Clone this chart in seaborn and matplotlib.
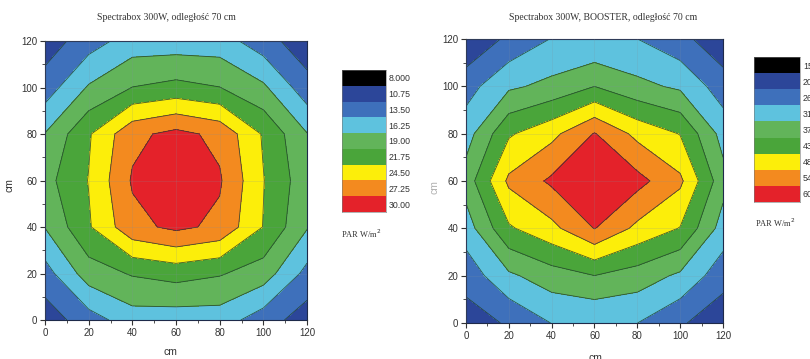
import numpy as np
import pandas as pd
import seaborn as sns
import matplotlib
matplotlib.use("Agg")
import matplotlib.pyplot as plt
from matplotlib.colors import ListedColormap
from matplotlib.ticker import MultipleLocator

# Measurement grid (cm)
positions_cm = [0, 20, 40, 60, 80, 100, 120]

# PAR readings, rows = y (0..120 cm), columns = x (0..120 cm)
standard_par = [
    [12.0, 15.0, 17.7, 17.5, 17.6, 14.8, 12.1],
    [15.1, 20.4, 22.0, 22.8, 22.0, 20.4, 15.4],
    [19.1, 24.2, 29.2, 30.6, 29.4, 24.4, 19.2],
    [20.8, 24.6, 30.3, 33.0, 30.3, 24.6, 20.0],
    [19.1, 24.2, 29.3, 30.8, 29.3, 24.2, 19.1],
    [14.8, 19.3, 21.8, 22.6, 21.8, 19.5, 14.6],
    [12.0, 15.0, 17.5, 17.5, 17.5, 14.7, 11.7],
]
booster_par = [
    [23.6, 26.9, 32.0, 32.0, 31.9, 27.0, 22.5],
    [28.4, 36.5, 40.5, 43.1, 40.5, 36.5, 28.5],
    [34.7, 48.0, 52.8, 60.2, 53.0, 48.5, 35.1],
    [40.0, 55.5, 61.0, 66.0, 61.9, 55.5, 39.6],
    [35.0, 48.0, 52.8, 60.3, 52.8, 48.5, 35.4],
    [29.6, 36.5, 39.0, 43.1, 39.0, 36.5, 29.0],
    [21.2, 27.5, 32.1, 32.0, 31.9, 28.0, 22.2],
]

standard_levels = [8.0, 10.75, 13.5, 16.25, 19.0, 21.75, 24.5, 27.25, 30.0]
standard_labels = ["8.000", "10.75", "13.50", "16.25", "19.00",
                   "21.75", "24.50", "27.25", "30.00"]
booster_levels = [15.0, 20.625, 26.25, 31.875, 37.5, 43.125, 48.75, 54.375, 60.0]
booster_labels = ["15.00", "20.63", "26.25", "31.88", "37.50",
                  "43.13", "48.75", "54.38", "60.00"]

titles = ["Spectrabox 300W, odległość 70 cm",
          "Spectrabox 300W, BOOSTER, odległość 70 cm"]

band_colors = ["#000000", "#2c4699", "#3e70bb", "#5ec2de", "#62b45a",
               "#4aa53a", "#fcee0a", "#f38a1f", "#e4222a"]

sns.set_style("ticks")
plt.rcParams["font.family"] = ["Liberation Sans", "DejaVu Sans"]

fig = plt.figure(figsize=(8.10, 3.59), dpi=100)

panels = [
    dict(values=standard_par, levels=standard_levels, labels=standard_labels,
         top=40.0, ax=[0.0556, 0.1086, 0.3235, 0.7772],
         cax=[0.4222, 0.4095, 0.0543, 0.3955], title_x=0.206,
         ylab=(0.0123, 0.485, "#333333"), xlab=(0.210, 0.020),
         par=(0.421, 0.350), title=titles[0]),
    dict(values=booster_par, levels=booster_levels, labels=booster_labels,
         top=80.0, ax=[0.5753, 0.1003, 0.3173, 0.7911],
         cax=[0.9309, 0.4373, 0.0568, 0.4039], title_x=0.744,
         ylab=(0.537, 0.479, "#b0b0b0"), xlab=(0.735, 0.002),
         par=(0.932, 0.378), title=titles[1]),
]

X, Y = np.meshgrid(positions_cm, positions_cm)

for p in panels:
    ax = fig.add_axes(p["ax"])
    Z = np.array(p["values"])
    bounds = list(p["levels"]) + [p["top"]]
    ax.contourf(X, Y, Z, levels=bounds, colors=band_colors)
    ax.contour(X, Y, Z, levels=p["levels"][1:], colors="#22402e",
               linewidths=0.6, alpha=0.85)
    ax.set_xlim(0, 120)
    ax.set_ylim(0, 120)
    ax.xaxis.set_major_locator(MultipleLocator(20))
    ax.yaxis.set_major_locator(MultipleLocator(20))
    ax.xaxis.set_minor_locator(MultipleLocator(10))
    ax.yaxis.set_minor_locator(MultipleLocator(10))
    ax.grid(True, which="major", color="#7f8f9f", alpha=0.25, linewidth=0.5)
    ax.set_axisbelow(False)
    ax.tick_params(which="major", direction="out", length=3.5, width=0.8,
                   labelsize=7, colors="#333333", pad=2)
    ax.tick_params(which="minor", direction="out", length=2, width=0.6,
                   colors="#333333")
    for s in ax.spines.values():
        s.set_visible(True)
        s.set_linewidth(0.8)
        s.set_color("#1e2a4a")

    fig.text(p["title_x"], 0.952, p["title"], ha="center", va="center",
             fontsize=7, family=["Liberation Serif", "DejaVu Serif"],
             color="#333333")
    fig.text(p["ylab"][0], p["ylab"][1], "cm", rotation=90, ha="center",
             va="center", fontsize=7.5, color=p["ylab"][2])
    fig.text(p["xlab"][0], p["xlab"][1], "cm", ha="center", va="center",
             fontsize=7.5, color="#333333")

    # Colour scale drawn as a one-column heatmap, highest band at the bottom
    cax = fig.add_axes(p["cax"])
    scale = pd.DataFrame({"band": np.arange(len(band_colors))},
                         index=p["labels"])
    sns.heatmap(scale, cmap=ListedColormap(band_colors),
                vmin=-0.5, vmax=len(band_colors) - 0.5, cbar=False, ax=cax,
                xticklabels=False, yticklabels=True)
    cax.set_ylabel("")
    cax.yaxis.tick_right()
    cax.tick_params(axis="y", length=0, labelsize=6.3, pad=2,
                    labelrotation=0, colors="#333333")
    for s in cax.spines.values():
        s.set_visible(True)
        s.set_linewidth(0.4)
        s.set_color("#777777")

    fig.text(p["par"][0], p["par"][1], "PAR W/m$^2$", ha="left", va="center",
             fontsize=6, family=["Liberation Serif", "DejaVu Serif"],
             color="#333333")

fig.savefig("out.png", dpi=100)
